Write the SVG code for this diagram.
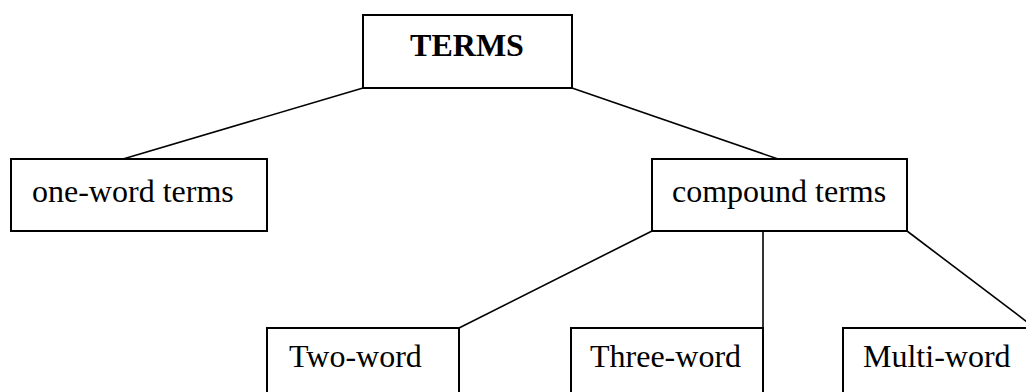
<svg xmlns="http://www.w3.org/2000/svg" width="1026" height="392" viewBox="0 0 1026 392">
<style>
.box{fill:#fff;stroke:#000;stroke-width:2}
.t{font-family:"Liberation Serif","Times New Roman",serif;font-size:32px;fill:#000}
.b{font-weight:bold}
.c{stroke:#000;stroke-width:1.6;fill:none}
</style>
<rect width="1026" height="392" fill="#fff"/>
<g id="connectors">
<line class="c" x1="363" y1="88" x2="123" y2="159"/>
<line class="c" x1="572" y1="88" x2="778" y2="159"/>
<line class="c" x1="652" y1="231" x2="459" y2="328"/>
<line class="c" x1="763" y1="231" x2="763" y2="328"/>
<line class="c" x1="907" y1="231" x2="1035" y2="328"/>
</g>
<g id="terms">
<rect class="box" x="363" y="15" width="209" height="73"/>
<text class="t b" x="467" y="56" text-anchor="middle">TERMS</text>
</g>
<g id="one-word">
<rect class="box" x="11" y="159" width="256" height="72"/>
<text class="t" x="32" y="202">one-word terms</text>
</g>
<g id="compound">
<rect class="box" x="652" y="159" width="255" height="72"/>
<text class="t" x="672" y="202">compound terms</text>
</g>
<g id="two-word">
<rect class="box" x="267" y="328" width="192" height="80"/>
<text class="t" x="289" y="367">Two-word</text>
</g>
<g id="three-word">
<rect class="box" x="571" y="328" width="192" height="80"/>
<text class="t" x="590" y="367">Three-word</text>
</g>
<g id="multi-word">
<rect class="box" x="843" y="328" width="192" height="80"/>
<text class="t" x="863" y="367">Multi-word</text>
</g>
</svg>
